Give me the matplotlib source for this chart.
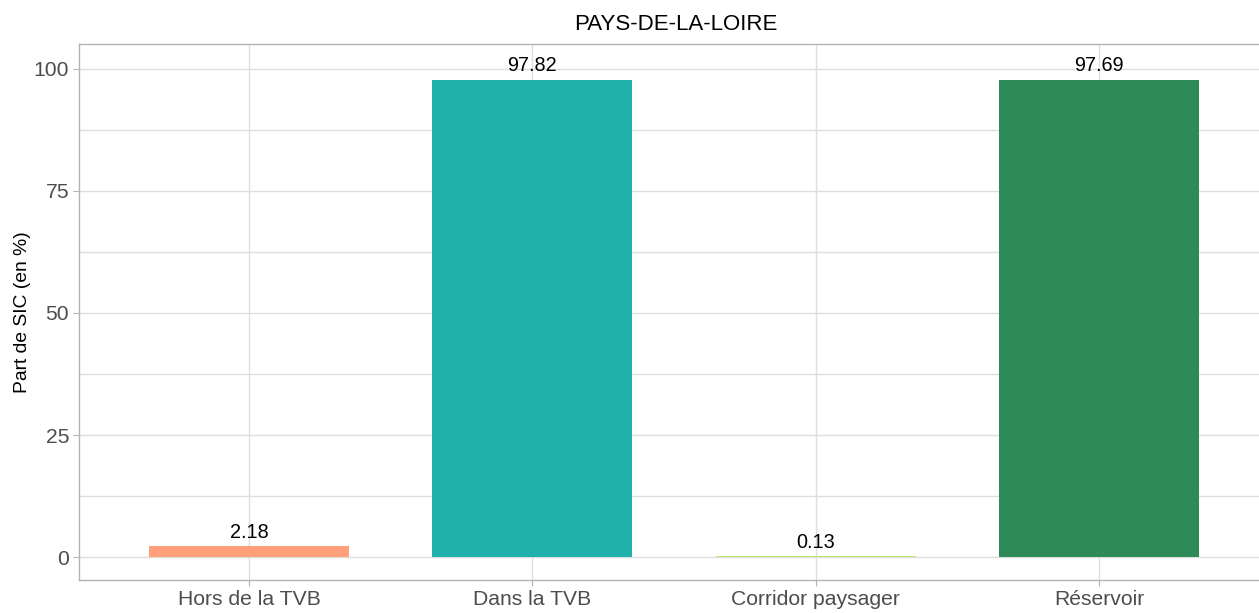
import matplotlib
matplotlib.use("Agg")
import matplotlib.pyplot as plt
from matplotlib.ticker import MultipleLocator

categories = ["Hors de la TVB", "Dans la TVB", "Corridor paysager", "Réservoir"]
values = [2.18, 97.82, 0.13, 97.69]
colors = ["#FFA07A", "#20B2AA", "#BDE96B", "#2E8B57"]
yticks = [0, 25, 50, 75, 100]

plt.rcParams['font.family'] = ['Liberation Sans', 'DejaVu Sans']

W, H = 1259, 613
fig = plt.figure(figsize=(W/100, H/100), dpi=100)
left, right, top, bottom = 79, 1269, 44, 580
ax = fig.add_axes([left/W, 1 - bottom/H, (right-left)/W, (bottom-top)/H])

x = list(range(1, len(categories)+1))
ax.bar(x, values, width=0.705, color=colors, zorder=3)
for xi, v in zip(x, values):
    ax.annotate(f"{v:.2f}", (xi, v), xytext=(0, 3.5), textcoords="offset points",
                ha="center", va="bottom", fontsize=14.3, color="black", zorder=4)

ax.set_xlim(0.4, 4.6)
ax.set_ylim(-4.7, 105.1)
ax.set_xticks(x)
ax.set_xticklabels(categories)
ax.set_yticks(yticks)
ax.yaxis.set_minor_locator(MultipleLocator(12.5))
ax.grid(True, which="major", color="#DEDEDE", linewidth=1.0, zorder=0)
ax.grid(True, which="minor", axis="y", color="#DEDEDE", linewidth=1.0, zorder=0)
ax.tick_params(which="minor", length=0)
ax.tick_params(which="major", length=4, color="#B3B3B3", labelsize=15.2,
               labelcolor="#4D4D4D", pad=3)
for s in ax.spines.values():
    s.set_color("#B3B3B3")
    s.set_linewidth(1.0)
ax.spines["right"].set_visible(False)
ax.set_ylabel("Part de SIC (en %)", fontsize=13.9, color="black", labelpad=2)
fig.text(676/W, 1 - 24/H, "PAYS-DE-LA-LOIRE", ha="center", va="center", fontsize=16)

fig.savefig("out.png", dpi=100)
